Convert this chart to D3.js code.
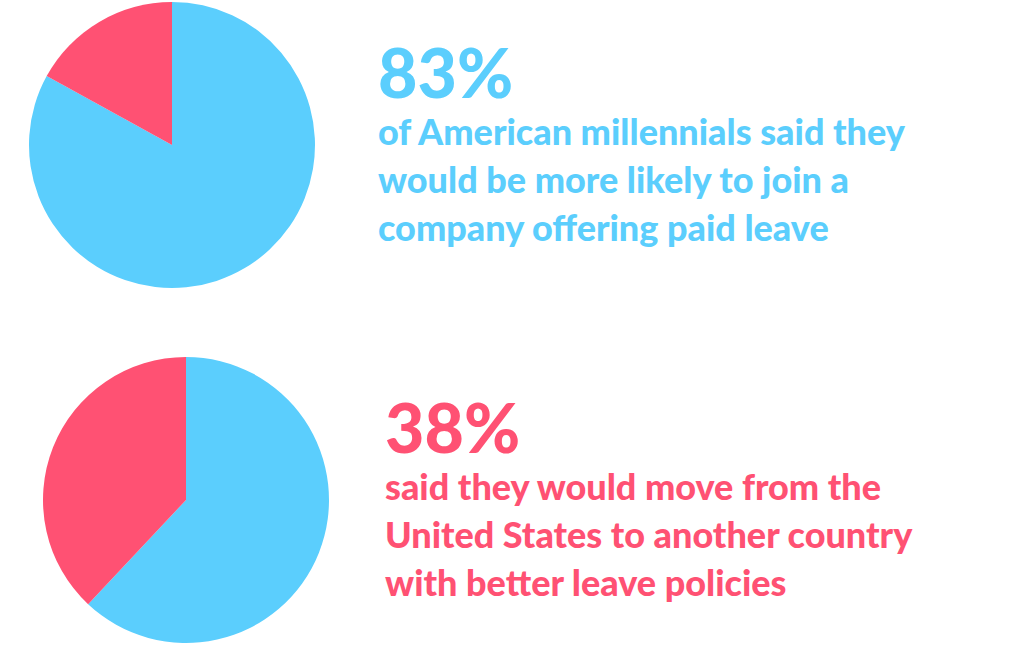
<!DOCTYPE html>
<html><head><meta charset="utf-8">
<script src="https://cdn.jsdelivr.net/npm/d3@7"></script>
<style>body{margin:0;background:#fff}</style>
</head><body><svg id="c" width="1022" height="659"></svg>
<script>
var blue = "#5BCEFD", red = "#FF5173";
var shares = [83, 62];          // blue share per pie
var headlines = ["83%", "38%"];
var captions = [
  ["of American millennials said they", "would be more likely to join a", "company offering paid leave"],
  ["said they would move from the", "United States to another country", "with better leave policies"]
];
var textColors = [blue, red];
var centers = [[172, 145], [186, 500]];
var textX = [378, 385], textY = [98, 453];

var svg = d3.select("#c");
var pie = d3.pie().sort(null);
var arc = d3.arc().innerRadius(0).outerRadius(143);

shares.forEach(function(s, i) {
  var g = svg.append("g").attr("transform", "translate(" + centers[i] + ")");
  g.selectAll("path").data(pie([s, 100 - s])).enter().append("path")
    .attr("d", arc).attr("fill", function(d, j) { return j ? red : blue; });
  var t = svg.append("g").attr("fill", textColors[i])
    .style("font-family", "Lato").style("font-weight", "900");
  t.append("text").attr("x", textX[i]).attr("y", textY[i])
    .style("font-size", "68px").text(headlines[i]);
  captions[i].forEach(function(line, k) {
    t.append("text").attr("x", textX[i]).attr("y", textY[i] + 47 + k * 48)
      .style("font-size", "36px").text(line);
  });
});
</script></body></html>
